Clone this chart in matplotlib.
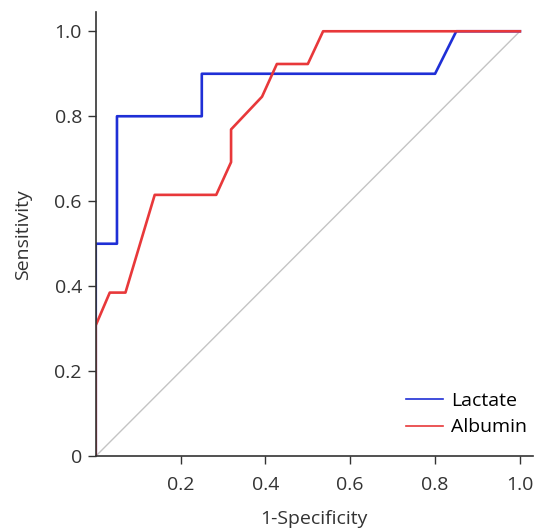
import numpy as np
import matplotlib
matplotlib.use('Agg')
import matplotlib.pyplot as plt

plt.rcParams['font.family'] = ['Open Sans', 'DejaVu Sans']

# ROC points
lac_fpr = [0, 0, 0.05, 0.05, 0.25, 0.25, 0.80, 0.85, 1.0]
lac_tpr = [0, 0.5, 0.5, 0.8, 0.8, 0.9, 0.9, 1.0, 1.0]

alb_fpr = [0, 0, 0.033, 0.07, 0.139, 0.284, 0.319, 0.319, 0.392, 0.427, 0.50, 0.536, 1.0]
alb_tpr = [0, 0.308, 0.385, 0.385, 0.615, 0.615, 0.692, 0.769, 0.846, 0.923, 0.923, 1.0, 1.0]

xticks = [0.2, 0.4, 0.6, 0.8, 1.0]
yticks = [0, 0.2, 0.4, 0.6, 0.8, 1.0]
ylabels = ['0', '0.2', '0.4', '0.6', '0.8', '1.0']

fig = plt.figure(figsize=(5.38, 5.28), dpi=100)
ax = fig.add_axes([0.178, 0.136, 0.812, 0.841])

ax.plot([0, 1], [0, 1], color='#c4c4c4', lw=1.0)
ax.plot(lac_fpr, lac_tpr, color='#1f2fd6', lw=1.9, label='Lactate')
ax.plot(alb_fpr, alb_tpr, color='#e8383a', lw=1.9, label='Albumin')

ax.set_xlim(0, 1.03)
ax.set_ylim(0, 1.045)
ax.set_xticks(xticks)
ax.set_xticklabels(['0.2', '0.4', '0.6', '0.8', '1.0'])
ax.set_yticks(yticks)
ax.set_yticklabels(ylabels)
ax.tick_params(labelsize=14, length=6, width=1, color='#333333', labelcolor='#333333')
ax.tick_params(axis='x', pad=8)
ax.tick_params(axis='y', pad=4)

for s in ['top', 'right']:
    ax.spines[s].set_visible(False)
for s in ['left', 'bottom']:
    ax.spines[s].set_color('#333333')
    ax.spines[s].set_linewidth(1.2)

ax.set_xlabel('1-Specificity', fontsize=14, color='#333333', labelpad=12)
ax.set_ylabel('Sensitivity', fontsize=14, color='#333333', labelpad=16)

leg = ax.legend(loc='lower right', bbox_to_anchor=(1.005, 0.027), frameon=False, fontsize=14,
                handlelength=1.9, handletextpad=0.4, borderaxespad=0, labelspacing=0.45)
for line in leg.get_lines():
    line.set_linewidth(1.2)

fig.savefig('out.png', dpi=100)
